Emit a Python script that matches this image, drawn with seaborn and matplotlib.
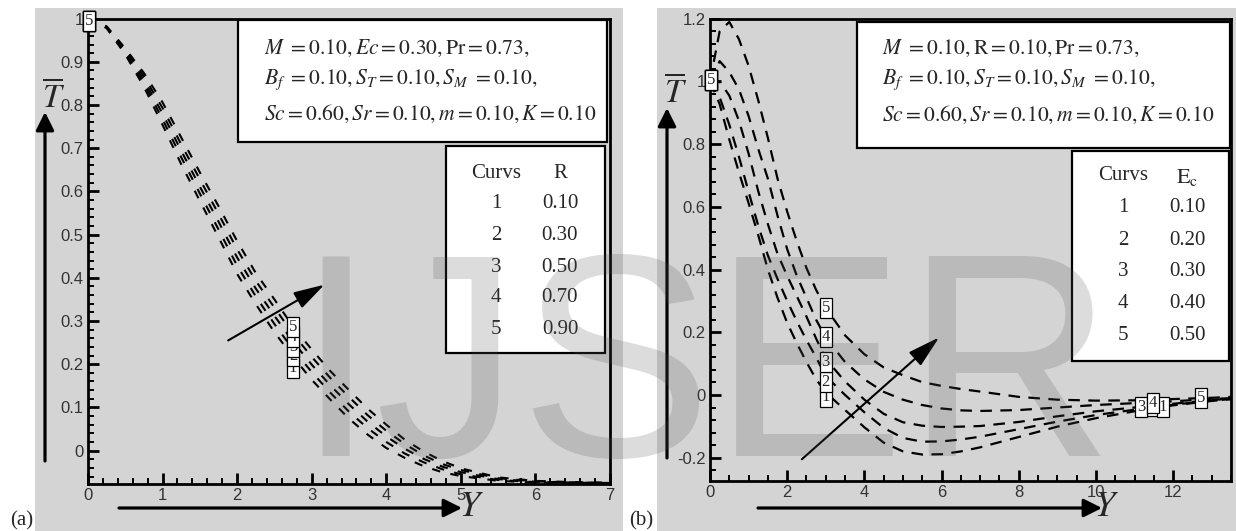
import matplotlib
matplotlib.use("Agg")
import matplotlib.pyplot as plt
import numpy as np
import pandas as pd
import seaborn as sns
from matplotlib.patches import Rectangle, FancyArrowPatch
from matplotlib.ticker import MultipleLocator, FuncFormatter

# ---------------- data ----------------
xa = [0, 0.25, 0.5, 0.75, 1.0, 1.25, 1.5, 1.75, 2.0, 2.25, 2.5, 2.75, 3.0,
      3.25, 3.5, 3.75, 4.0, 4.25, 4.5, 4.75, 5.0, 5.5, 6.0, 6.5, 7.0]
ya1 = [1.0, 0.978, 0.917, 0.842, 0.754, 0.663, 0.578, 0.494, 0.409, 0.339, 0.274, 0.217, 0.164,
       0.118, 0.074, 0.037, 0.006, -0.017, -0.036, -0.050, -0.059, -0.070, -0.074, -0.075, -0.075]
ya2 = [1.0, 0.979, 0.920, 0.850, 0.767, 0.679, 0.595, 0.512, 0.428, 0.357, 0.293, 0.234, 0.182,
       0.134, 0.090, 0.052, 0.020, -0.007, -0.027, -0.043, -0.055, -0.068, -0.073, -0.074, -0.075]
ya3 = [1.0, 0.980, 0.924, 0.858, 0.780, 0.694, 0.611, 0.530, 0.447, 0.375, 0.312, 0.252, 0.199,
       0.151, 0.107, 0.067, 0.033, 0.004, -0.019, -0.037, -0.050, -0.066, -0.072, -0.074, -0.075]
ya4 = [1.0, 0.981, 0.928, 0.866, 0.793, 0.709, 0.628, 0.548, 0.466, 0.393, 0.331, 0.270, 0.217,
       0.168, 0.124, 0.082, 0.046, 0.015, -0.011, -0.031, -0.045, -0.064, -0.071, -0.074, -0.075]
ya5 = [1.0, 0.982, 0.931, 0.874, 0.806, 0.725, 0.644, 0.566, 0.485, 0.411, 0.350, 0.287, 0.234,
       0.184, 0.140, 0.097, 0.060, 0.025, -0.002, -0.024, -0.041, -0.062, -0.070, -0.073, -0.074]

xb = [0, 0.25, 0.5, 0.75, 1.0, 1.25, 1.5, 1.75, 2.0, 2.25, 2.5, 2.75, 3.0, 3.5, 4.0,
      4.5, 5.0, 5.5, 6.0, 6.5, 7.0, 8.0, 9.0, 10.0, 11.0, 12.0, 13.0, 13.5]
yb1 = [1.0, 0.928, 0.815, 0.71, 0.612, 0.51, 0.40, 0.31, 0.23, 0.165, 0.105, 0.05, 0.008, -0.048,
       -0.103, -0.152, -0.180, -0.190, -0.189, -0.180, -0.167, -0.134, -0.101, -0.074, -0.052,
       -0.033, -0.019, -0.013]
yb2 = [1.0, 0.95, 0.862, 0.76, 0.648, 0.54, 0.445, 0.37, 0.30, 0.235, 0.175, 0.12, 0.06, 0.0,
       -0.055, -0.105, -0.137, -0.149, -0.148, -0.142, -0.133, -0.109, -0.085, -0.064, -0.047,
       -0.031, -0.018, -0.013]
yb3 = [1.0, 1.0, 0.955, 0.875, 0.77, 0.65, 0.545, 0.45, 0.38, 0.315, 0.25, 0.18, 0.115, 0.043,
       -0.015, -0.06, -0.087, -0.098, -0.102, -0.101, -0.099, -0.086, -0.068, -0.052, -0.040,
       -0.028, -0.016, -0.012]
yb4 = [1.0, 1.065, 1.03, 0.975, 0.89, 0.785, 0.69, 0.572, 0.465, 0.38, 0.31, 0.24, 0.183, 0.105,
       0.05, 0.01, -0.015, -0.032, -0.043, -0.049, -0.051, -0.048, -0.040, -0.032, -0.026,
       -0.020, -0.013, -0.010]
yb5 = [1.0, 1.16, 1.19, 1.135, 1.05, 0.94, 0.82, 0.69, 0.585, 0.49, 0.405, 0.335, 0.278, 0.19,
       0.13, 0.088, 0.063, 0.041, 0.029, 0.019, 0.011, -0.006, -0.015, -0.018, -0.017,
       -0.013, -0.009, -0.006]

curve_ids = ["1", "2", "3", "4", "5"]
R_values = ["0.10", "0.30", "0.50", "0.70", "0.90"]
Ec_values = ["0.10", "0.20", "0.30", "0.40", "0.50"]

# label positions of the boxed curve numbers (data units)
lab_a_x = [2.75, 2.75, 2.75, 2.75, 2.75]
lab_a_y = [0.192, 0.218, 0.239, 0.263, 0.286]
lab_b_x = [3.0, 3.0, 3.0, 3.0, 3.0]
lab_b_y = [-0.005, 0.043, 0.105, 0.184, 0.276]
lab_b2_x = [11.74, 11.48, 11.17, 11.48, 12.72]
lab_b2_y = [-0.038, -0.035, -0.038, -0.024, -0.010]

# ---------------- style ----------------
sns.set_style("ticks")
plt.rcParams.update({
    "mathtext.fontset": "stix",
    "font.family": ["Liberation Sans", "DejaVu Sans"],
    "axes.axisbelow": False,
})

W, H = 1236, 531
fig = plt.figure(figsize=(W / 100, H / 100), dpi=100)
fig.patch.set_facecolor("white")
GRAY = "#d4d4d4"


def F(x, y):
    return (x / W, 1 - y / H)


# panel gray backgrounds
fig.patches.append(Rectangle(F(35, 531), (623 - 35) / W, (531 - 8) / H,
                             transform=fig.transFigure, facecolor=GRAY, edgecolor="none", zorder=-10))
fig.patches.append(Rectangle(F(657, 531), (1236 - 657) / W, (531 - 8) / H,
                             transform=fig.transFigure, facecolor=GRAY, edgecolor="none", zorder=-10))

ax1 = fig.add_axes([88 / W, 1 - 484.3 / H, (610 - 88) / W, (484.3 - 18.6) / H])
ax2 = fig.add_axes([710 / W, 1 - 481.2 / H, (1231 - 710) / W, (481.2 - 18.8) / H])

fmt = FuncFormatter(lambda v, p: ("%g" % round(v, 4)) if abs(v) > 1e-9 else "0")

for ys in (ya1, ya2, ya3, ya4, ya5):
    sns.lineplot(x=xa, y=ys, ax=ax1, color="black", linewidth=1.5,
                 linestyle=(0, (4.0, 5.0)), sort=False, legend=False)
for ys in (yb1, yb2, yb3, yb4, yb5):
    sns.lineplot(x=xb, y=ys, ax=ax2, color="black", linewidth=1.6,
                 linestyle=(0, (5.2, 3.8)), sort=False, legend=False)

# left panel
ax1.set_xlim(0, 7)
ax1.set_ylim(-0.078, 1.0)
ax1.xaxis.set_major_locator(MultipleLocator(1))
ax1.xaxis.set_minor_locator(MultipleLocator(0.2))
ax1.yaxis.set_major_locator(MultipleLocator(0.1))
ax1.yaxis.set_minor_locator(MultipleLocator(0.02))

# right panel
ax2.set_xlim(0, 13.5)
ax2.set_ylim(-0.275, 1.2)
ax2.xaxis.set_major_locator(MultipleLocator(2))
ax2.xaxis.set_minor_locator(MultipleLocator(0.5))
ax2.yaxis.set_major_locator(MultipleLocator(0.2))
ax2.yaxis.set_minor_locator(MultipleLocator(0.04))

for ax in (ax1, ax2):
    ax.set_facecolor(GRAY)
    ax.set_xlabel("")
    ax.set_ylabel("")
    for s in ax.spines.values():
        s.set_linewidth(2.0)
        s.set_color("black")
        s.set_visible(True)
        s.set_zorder(10)
    ax.yaxis.set_major_formatter(fmt)
    ax.xaxis.set_major_formatter(fmt)
    ax.xaxis.set_zorder(10)
    ax.yaxis.set_zorder(10)
    ax.tick_params(axis="both", which="both", direction="in", left=True, bottom=True,
                   top=False, right=False, color="black", labelcolor="#333333")
    ax.tick_params(axis="both", which="major", length=8, width=2.0, pad=3, labelsize=12)
    ax.tick_params(axis="both", which="minor", length=4.5, width=1.4)

box_kw = dict(boxstyle="square,pad=0.12", facecolor="white", edgecolor="black", linewidth=0.9)
SERIF = ["Liberation Serif", "DejaVu Serif"]


def numlabel(ax, x, y, s):
    ax.text(x, y, s, fontsize=12, family=SERIF, ha="center", va="center",
            bbox=box_kw, zorder=12, clip_on=False)


for i, c in enumerate(curve_ids):
    numlabel(ax1, 0.01, 0.994, c)
    numlabel(ax1, lab_a_x[i], lab_a_y[i], c)
    numlabel(ax2, 0.02, 1.005, c)
    numlabel(ax2, lab_b_x[i], lab_b_y[i], c)
for i in [1, 0, 2, 3, 4]:
    numlabel(ax2, lab_b2_x[i], lab_b2_y[i], curve_ids[i])

# inner arrows (data coordinates)
ax1.annotate("", xy=(3.17, 0.384), xytext=(1.88, 0.255),
             arrowprops=dict(arrowstyle="-|>,head_length=1.9,head_width=0.55", mutation_scale=10,
                             color="black", lw=1.5, shrinkA=0, shrinkB=0))
ax2.annotate("", xy=(5.94, 0.184), xytext=(2.38, -0.205),
             arrowprops=dict(arrowstyle="-|>,head_length=2.0,head_width=0.55", mutation_scale=10,
                             color="black", lw=1.5, shrinkA=0, shrinkB=0))


# parameter boxes and tables
def frect(x0, y0, x1, y1):
    fig.patches.append(Rectangle(F(x0, y1), (x1 - x0) / W, (y1 - y0) / H, transform=fig.transFigure,
                                 facecolor="white", edgecolor="black", linewidth=1.6, zorder=3))


frect(238, 20, 607, 142)
frect(446, 146, 605, 353)
frect(857, 22, 1230, 148)
frect(1072, 151, 1229, 361)

PFS = 15.6
left_lines = [r"$M\ =0.10, Ec=0.30, \mathrm{Pr}=0.73,$",
              r"$B_f\ =0.10, S_T=0.10, S_M\ =0.10,$",
              r"$Sc=0.60, Sr=0.10, m=0.10, K=0.10$"]
right_lines = [r"$M\ =0.10, \mathrm{R}=0.10, \mathrm{Pr}=0.73,$",
               r"$B_f\ =0.10, S_T=0.10, S_M\ =0.10,$",
               r"$Sc=0.60, Sr=0.10, m=0.10, K=0.10$"]
for s, yb in zip(left_lines, [53.5, 84, 120]):
    fig.text(*F(264, yb), s, fontsize=PFS, ha="left", va="baseline", zorder=4)
for s, yb in zip(right_lines, [54, 84, 121]):
    fig.text(*F(882, yb), s, fontsize=PFS, ha="left", va="baseline", zorder=4)

LFS = 15
fig.text(*F(496, 173), "Curvs", fontsize=LFS, family=SERIF, ha="center", va="center", zorder=4)
fig.text(*F(560, 173), "R", fontsize=LFS, family=SERIF, ha="center", va="center", zorder=4)
for c, v, yy in zip(curve_ids, R_values, [203, 236, 268, 298, 330]):
    fig.text(*F(496, yy), c, fontsize=LFS, family=SERIF, ha="center", va="center", zorder=4)
    fig.text(*F(560, yy), v, fontsize=LFS, family=SERIF, ha="center", va="center", zorder=4)

fig.text(*F(1123, 176), "Curvs", fontsize=LFS, family=SERIF, ha="center", va="center", zorder=4)
fig.text(*F(1187, 178), r"$\mathrm{E_c}$", fontsize=LFS + 1, ha="center", va="center", zorder=4)
for c, v, yy in zip(curve_ids, Ec_values, [207, 240, 271, 303, 336]):
    fig.text(*F(1123, yy), c, fontsize=LFS, family=SERIF, ha="center", va="center", zorder=4)
    fig.text(*F(1187, yy), v, fontsize=LFS, family=SERIF, ha="center", va="center", zorder=4)


# axis arrows and labels
def farrow(p0, p1):
    fig.add_artist(FancyArrowPatch(F(*p0), F(*p1), transform=fig.transFigure,
                                   arrowstyle="-|>,head_length=1.1,head_width=0.55",
                                   mutation_scale=10, color="black", lw=2.3,
                                   shrinkA=0, shrinkB=0, zorder=6))


farrow((45, 461), (45, 112))
farrow((119, 508), (462, 508))
farrow((667, 458), (667, 108))
farrow((758, 508), (1102, 508))

fig.text(*F(54, 97), r"$\overline{T}$", fontsize=24, ha="center", va="center", zorder=6)
fig.text(*F(676, 92), r"$\overline{T}$", fontsize=24, ha="center", va="center", zorder=6)
fig.text(*F(471, 507), r"$Y$", fontsize=26, ha="center", va="center", zorder=6)
fig.text(*F(1106, 507), r"$Y$", fontsize=26, ha="center", va="center", zorder=6)

fig.text(*F(22, 521), "(a)", fontsize=15, family=SERIF, ha="center", va="center")
fig.text(*F(641, 521), "(b)", fontsize=15, family=SERIF, ha="center", va="center")

# watermark
fig.text(*F(295, 456), "IJSER", fontsize=208, family=["Liberation Sans", "DejaVu Sans"],
         color=(0.33, 0.33, 0.33), alpha=0.2, ha="left", va="baseline", zorder=50)

fig.savefig("out.png", dpi=100, facecolor="white")
